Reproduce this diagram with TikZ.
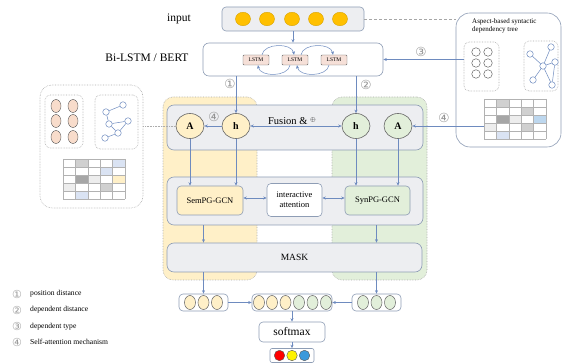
\documentclass[tikz,border=0pt]{standalone}
\usepackage{fontspec}
\setmainfont{Liberation Serif}
\newfontfamily\symf{DejaVu Sans}
\usetikzlibrary{arrows.meta,calc,shapes.geometric}

\definecolor{lineblue}{HTML}{6E8BBF}
\definecolor{boxborder}{HTML}{8E9DB5}
\definecolor{boxgray}{HTML}{EDEEF1}
\definecolor{ylw}{HTML}{FFF0C8}
\definecolor{grn}{HTML}{E2EFDA}
\definecolor{orng}{HTML}{FFC000}
\definecolor{peach}{HTML}{F8DCCB}
\definecolor{lstmfill}{HTML}{F6E0D8}
\definecolor{cgray}{HTML}{D0D0D0}
\definecolor{cdark}{HTML}{A6A6A6}
\definecolor{clight}{HTML}{EDEDED}
\definecolor{cblue}{HTML}{DAE3F3}
\definecolor{cblue2}{HTML}{BDD7EE}

\tikzset{
  sz/.style 2 args={minimum width=#1, minimum height=#2},
  box/.style={draw=boxborder, rounded corners=4pt, line width=0.6pt, inner sep=0pt},
  panel/.style={draw=gray!65, densely dotted, rounded corners=10pt, line width=0.6pt, inner sep=0pt},
  dbox/.style={draw=gray!65, densely dotted, rounded corners=5pt, line width=0.6pt, inner sep=0pt},
  arr/.style={-{Stealth[length=3.5pt,width=3pt]}, draw=lineblue, line width=0.6pt},
  darr/.style={{Stealth[length=3.5pt,width=3pt]}-{Stealth[length=3.5pt,width=3pt]}, draw=lineblue, line width=0.6pt},
  bigc/.style={ellipse, draw=gray!80!black, line width=0.6pt, sz={28pt}{25pt}, inner sep=0pt, font=\fontsize{10}{12}\selectfont\bfseries},
  vc/.style={ellipse, draw=gray!80!black, line width=0.5pt, sz={11pt}{14pt}, inner sep=0pt},
  gn/.style={circle, draw=lineblue, line width=0.5pt, minimum size=6.5pt, inner sep=0pt, fill=white},
  gl/.style={draw=lineblue, line width=0.5pt},
  num/.style={text=gray!85, font=\symf\fontsize{12.5}{13}\selectfont, inner sep=0pt},
  knum/.style={text=gray!80, font=\symf\fontsize{11}{12}\selectfont, inner sep=0pt},
  leg/.style={anchor=west, font=\fontsize{7.6}{9}\selectfont, inner sep=0pt}
}

\begin{document}
\begin{tikzpicture}[x=1pt,y=-1pt]
\useasboundingbox (0,0) rectangle (562,363);

% ---------- background panels ----------
\node[panel, fill=ylw, sz={94pt}{183pt}] (ypan) at (210,188.5) {};
\node[panel, fill=grn, sz={95pt}{183pt}] (gpan) at (379.5,188.5) {};

% ---------- input ----------
\node[font=\fontsize{11.5}{13}\selectfont] (inlab) at (179,19) {input};
\node[box, fill=boxgray, sz={142pt}{24pt}] (inp) at (293,19) {};
\foreach \x [count=\i] in {243,267,292,316,340}
  \node[ellipse, fill=orng, draw=orng!85!black, line width=0.4pt, sz={15pt}{13.5pt}, inner sep=0pt] (ic\i) at (\x,19) {};

% ---------- Bi-LSTM / BERT ----------
\node[font=\fontsize{11.5}{13}\selectfont] (bilab) at (147,58) {Bi-LSTM / BERT};
\node[box, fill=white, sz={180pt}{33pt}, rounded corners=6pt] (bilstm) at (293,59.5) {};
\foreach \x [count=\i] in {256,295,334}
  \node[draw=gray!80!black, fill=lstmfill, line width=0.4pt, rounded corners=1pt, sz={26pt}{10pt}, inner sep=0pt, font=\fontsize{5.5}{6}\selectfont] (lstm\i) at (\x,60) {LSTM};
\draw[arr, line width=0.5pt] ([xshift=6pt]lstm1.north) .. controls +(2,-12) and +(-2,-12) .. ([xshift=-1pt]lstm2.north);
\draw[arr, line width=0.5pt] ([xshift=-5pt]lstm2.south) .. controls +(-2,12) and +(2,12) .. ([xshift=2pt]lstm1.south);
\draw[arr, line width=0.5pt] ([xshift=6pt]lstm2.north) .. controls +(2,-12) and +(-2,-12) .. ([xshift=-1pt]lstm3.north);
\draw[arr, line width=0.5pt] ([xshift=-5pt]lstm3.south) .. controls +(-2,12) and +(2,12) .. ([xshift=2pt]lstm2.south);
\draw[arr] (inp.south) -- (bilstm.north);

% ---------- right box: aspect-based syntactic dependency tree ----------
\node[box, fill=white, rounded corners=14pt, sz={105pt}{134pt}] (rb) at (508.5,80) {};
\node[anchor=north west, align=left, inner sep=0pt, font=\fontsize{7}{8.5}\selectfont] (rbt) at (472,18) {Aspect-based syntactic\\dependency tree};
\node[dbox, sz={35pt}{49pt}] (rbc) at (481.5,66.5) {};
\foreach \x/\y [count=\i] in {476/52,488/52,476/63,488/63,476/74,488/74}
  \node[ellipse, draw=gray!80!black, line width=0.5pt, sz={8.5pt}{8.5pt}, inner sep=0pt] (rc\i) at (\x,\y) {};
\node[dbox, sz={34pt}{50pt}] (rbg) at (541,66) {};
\node[gn] (n1) at (530,54) {};
\node[gn] (n2) at (551,47) {};
\node[gn] (n3) at (543,66) {};
\node[gn] (n4) at (555,62) {};
\node[gn] (n5) at (533,80) {};
\node[gn] (n6) at (552,85) {};
\draw[gl] (n1) -- (n3) (n3) -- (n2) (n3) -- (n4) (n3) -- (n5) (n4) -- (n6) (n3) -- (n6);
% right matrix
\fill[cgray]  (496.4,99) rectangle ++(12.4,8);
\fill[cgray]  (521.2,107) rectangle ++(12.4,8);
\fill[cdark]  (496.4,115) rectangle ++(12.4,8);
\fill[clight] (508.8,115) rectangle ++(12.4,8);
\fill[cblue2] (533.6,115) rectangle ++(12.4,8);
\fill[clight] (484,123) rectangle ++(12.4,8);
\fill[cgray]  (521.2,123) rectangle ++(12.4,8);
\fill[cblue]  (496.4,131) rectangle ++(12.4,8);
\foreach \i in {0,...,5} \draw[gray!60, line width=0.4pt] (484+\i*12.4,99) -- (484+\i*12.4,139);
\foreach \j in {0,...,5} \draw[gray!60, line width=0.4pt] (484,99+\j*8) -- (546,99+\j*8);
\node[inner sep=0pt, sz={62pt}{40pt}] (rbm) at (515,119) {};

% ---------- left box ----------
\node[panel, rounded corners=12pt, sz={103pt}{123pt}] (lb) at (91.5,146.5) {};
\node[dbox, sz={38pt}{53pt}] (lbe) at (64,121.5) {};
\foreach \x/\y [count=\i] in {56/106,73/106,56/121,73/121,56/137,73/137}
  \node[ellipse, fill=peach, draw=gray!70!black, line width=0.4pt, sz={10pt}{13pt}, inner sep=0pt] (le\i) at (\x,\y) {};
\node[dbox, sz={43pt}{54pt}] (lbg) at (116.5,122) {};
\node[gn] (g1) at (106,112) {};
\node[gn] (g2) at (123,105) {};
\node[gn] (g3) at (109,124) {};
\node[gn] (g4) at (128,121) {};
\node[gn] (g5) at (118,133) {};
\node[gn] (g6) at (105,138) {};
\draw[gl] (g1) -- (g2) (g1) -- (g3) (g3) -- (g4) (g3) -- (g5) (g5) -- (g4) (g5) -- (g6);
% left matrix
\fill[cgray]  (75.4,159) rectangle ++(12.4,8);
\fill[cblue]  (112.6,159) rectangle ++(12.4,8);
\fill[cblue]  (100.2,167) rectangle ++(12.4,8);
\fill[cdark]  (75.4,175) rectangle ++(12.4,8);
\fill[clight] (87.8,175) rectangle ++(12.4,8);
\fill[ylw]    (112.6,175) rectangle ++(12.4,8);
\fill[clight] (63,183) rectangle ++(12.4,8);
\fill[cgray]  (100.2,183) rectangle ++(12.4,8);
\fill[cblue]  (75.4,191) rectangle ++(12.4,8);
\foreach \i in {0,...,5} \draw[gray!60, line width=0.4pt] (63+\i*12.4,159) -- (63+\i*12.4,199);
\foreach \j in {0,...,5} \draw[gray!60, line width=0.4pt] (63,159+\j*8) -- (125,159+\j*8);

% ---------- Fusion ----------
\node[box, fill=boxgray, rounded corners=7pt, sz={256pt}{45pt}] (fus) at (295,127.5) {};
\node[font=\fontsize{10.5}{12}\selectfont, inner sep=0pt] (fuslab) at (292,121) {Fusion \& \raisebox{2.5pt}{\fontsize{6}{6}\selectfont$\oplus$}};
\node[bigc, fill=ylw] (Ay) at (190,126) {A};
\node[bigc, fill=ylw] (hy) at (236,126) {h};
\node[bigc, fill=grn] (hg) at (356,126) {h};
\node[bigc, fill=grn] (Ag) at (398,126) {A};

% ---------- GCN ----------
\node[box, fill=boxgray, rounded corners=7pt, sz={256pt}{48pt}] (gcn) at (295,201) {};
\node[box, fill=ylw, sz={66pt}{29pt}, font=\fontsize{8.5}{10}\selectfont] (sem) at (210,200.5) {SemPG-GCN};
\node[box, fill=white, sz={55pt}{33pt}, align=center, font=\fontsize{8.5}{10}\selectfont] (inter) at (294.5,200) {interactive\\attention};
\node[box, fill=grn, sz={65pt}{29pt}, font=\fontsize{8.5}{10}\selectfont] (syn) at (377.5,200.5) {SynPG-GCN};

% ---------- MASK ----------
\node[box, fill=boxgray, rounded corners=7pt, sz={255pt}{29pt}, font=\fontsize{9.5}{11}\selectfont] (mask) at (294.5,257.5) {MASK};

% ---------- vectors ----------
\node[box, fill=white, sz={49pt}{17pt}] (vl) at (203.5,302.5) {};
\node[box, fill=white, sz={80pt}{17pt}] (vm) at (292,302.5) {};
\node[box, fill=white, sz={49pt}{17pt}] (vr) at (376.5,302.5) {};
\foreach \x [count=\i] in {190,203.5,217} \node[vc, fill=ylw] (vly\i) at (\x,302.5) {};
\foreach \x [count=\i] in {259,272,285.5} \node[vc, fill=ylw] (vmy\i) at (\x,302.5) {};
\foreach \x [count=\i] in {299,312.5,326} \node[vc, fill=grn] (vmg\i) at (\x,302.5) {};
\foreach \x [count=\i] in {363,376.5,390} \node[vc, fill=grn] (vrg\i) at (\x,302.5) {};

\node[box, fill=white, sz={66pt}{20pt}, font=\fontsize{11.5}{13}\selectfont] (soft) at (292,332) {softmax};
\node[box, fill=white, sz={44pt}{14pt}, rounded corners=2pt] (out) at (292,355.5) {};
\node[circle, fill=red, draw=gray!70!black, line width=0.4pt, minimum size=10.5pt, inner sep=0pt] (o1) at (279.5,355.5) {};
\node[circle, fill=yellow, draw=gray!70!black, line width=0.4pt, minimum size=10.5pt, inner sep=0pt] (o2) at (292,355.5) {};
\node[circle, fill=cyan!70!blue!80, draw=gray!70!black, line width=0.4pt, minimum size=10.5pt, inner sep=0pt] (o3) at (304.5,355.5) {};

% ---------- connectors ----------
\draw[gray!70, densely dashed, line width=0.6pt] (inp.east) -- (rb.west |- inp.east);
\draw[arr] (rbc.west |- bilstm.east) -- (bilstm.east);
\node[num] (l3) at (421,52) {③};
\draw[arr] (bilstm.south -| hy) -- (hy.north);
\node[num] (l1) at (230,84) {①};
\draw[arr] (bilstm.south -| hg) -- (hg.north);
\node[num] (l2) at (366,85) {②};
\draw[arr] (rbm.west |- Ag) -- (Ag.east);
\node[num] (l4r) at (444,118) {④};
\draw[arr] (hy.west) -- (Ay.east);
\node[num] (l4l) at (214,117) {④};
\draw[darr] (hy.east) -- (hg.west);
\draw[gray!65, densely dotted, line width=0.6pt] (lb.east |- Ay) -- (Ay.west);

\draw[arr] (Ay.south) -- (Ay |- sem.north);
\draw[arr] (hy.south) -- (hy |- sem.north);
\draw[arr] (hg.south) -- (hg |- syn.north);
\draw[arr] (Ag.south) -- (Ag |- syn.north);
\draw[darr] (sem.east |- 0,198) -- (inter.west |- 0,198);
\draw[darr] (inter.east |- 0,198) -- (syn.west |- 0,198);

\draw[arr] (gcn.south -| vl) -- (mask.north -| vl);
\draw[arr] (gcn.south -| vr) -- (mask.north -| vr);
\draw[arr] (mask.south -| vl) -- (vl.north);
\draw[arr] (mask.south -| vr) -- (vr.north);
\draw[arr] (vl.east) -- (vm.west);
\draw[arr] (vr.west) -- (vm.east);
\draw[arr] (vm.south) -- (soft.north);
\draw[arr] (soft.south) -- (out.north);

% ---------- legend ----------
\node[knum] (k1) at (17,294) {①};
\node[leg] (t1) at (30,294) {position distance};
\node[knum] (k2) at (17,310) {②};
\node[leg] (t2) at (30,310) {dependent distance};
\node[knum] (k3) at (17,326.5) {③};
\node[leg] (t3) at (30,326.5) {dependent type};
\node[knum] (k4) at (17,342) {④};
\node[leg] (t4) at (30,342) {Self-attention mechanism};
\end{tikzpicture}
\end{document}
